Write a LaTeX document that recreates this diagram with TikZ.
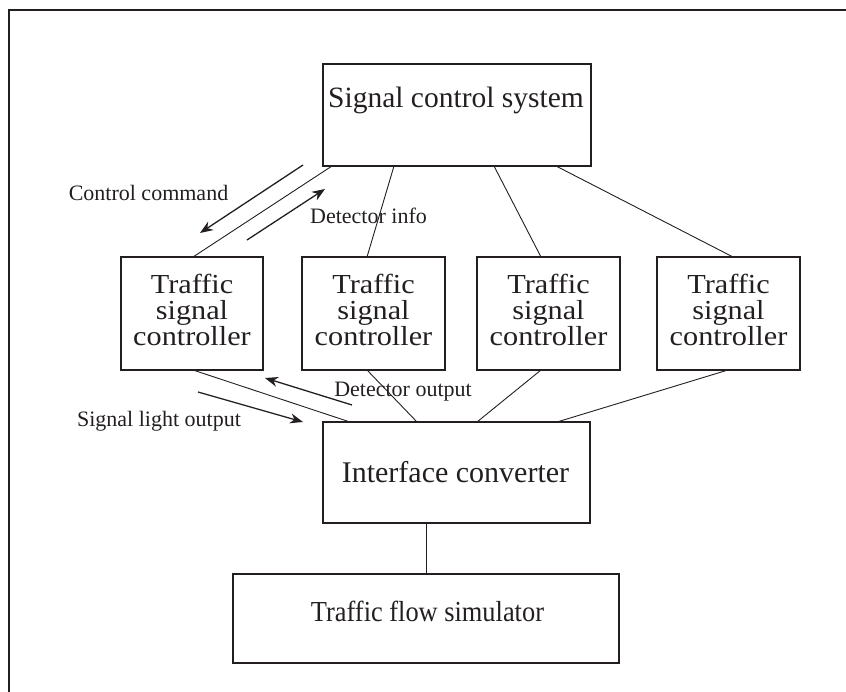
\documentclass[tikz,border=0pt]{standalone}
\usepackage{fontspec}
\setmainfont{Liberation Serif}
\newfontfamily\widefont[FakeStretch=1.1]{Liberation Serif}
\newfontfamily\narrowfont[FakeStretch=0.91]{Liberation Serif}
\usetikzlibrary{arrows.meta,calc}
\definecolor{ink}{HTML}{231F20}
\begin{document}
\begin{tikzpicture}[x=1pt,y=-1pt,
  box/.style={draw=ink,line width=1.2pt,rectangle,inner sep=0pt,outer sep=0pt},
  bigtext/.style={text=ink,inner sep=0pt,anchor=base},
  tsctext/.style={text=ink,font=\widefont\fontsize{27.5}{26}\selectfont,inner sep=0pt,align=center,anchor=center},
  smalltext/.style={text=ink,font=\fontsize{22}{24}\selectfont,inner sep=0pt,anchor=base},
  conn/.style={draw=ink,line width=0.9pt},
  arr/.style={draw=ink,line width=1.3pt,-{Stealth[length=13pt,width=10pt]}},
  frame/.style={draw=ink,line width=2.6pt}
]
\useasboundingbox (0,0) rectangle (846,692);
\draw[frame] (9,692) -- (9,10) -- (846,10);

% boxes
\node[box,minimum width=268pt,minimum height=102pt] (scs) at (457,115) {};
\node[box,minimum width=142pt,minimum height=113pt] (t1) at (192,313.5) {};
\node[box,minimum width=143pt,minimum height=113pt] (t2) at (373.5,313.5) {};
\node[box,minimum width=143pt,minimum height=113pt] (t3) at (548.5,313.5) {};
\node[box,minimum width=143pt,minimum height=113pt] (t4) at (728.5,313.5) {};
\node[box,minimum width=267pt,minimum height=101pt] (ic) at (456.5,472.5) {};
\node[box,minimum width=386pt,minimum height=89pt] (tfs) at (426,618.5) {};

% box texts
\node[bigtext,font=\fontsize{29.5}{30}\selectfont] (scsl) at (456,108) {Signal control system};
\node[tsctext] (t1l) at (192,309.5) {Traffic\\signal\\controller};
\node[tsctext] (t2l) at (373.5,309.5) {Traffic\\signal\\controller};
\node[tsctext] (t3l) at (548.5,309.5) {Traffic\\signal\\controller};
\node[tsctext] (t4l) at (728.5,309.5) {Traffic\\signal\\controller};
\node[bigtext,font=\fontsize{30}{30}\selectfont] (icl) at (455.5,482) {Interface converter};
\node[bigtext,font=\narrowfont\fontsize{29}{30}\selectfont] (tfsl) at (427.5,621) {Traffic flow simulator};

% connectors top
\draw[conn] (332,0 |- scs.south) -- (193,0 |- t1.north);
\draw[conn] (394,0 |- scs.south) -- (367,0 |- t2.north);
\draw[conn] (494,0 |- scs.south) -- (541,0 |- t3.north);
\draw[conn] (556,0 |- scs.south) -- (733,0 |- t4.north);
% connectors bottom
\draw[conn] (193,0 |- t1.south) -- (350,0 |- ic.north);
\draw[conn] (367,0 |- t2.south) -- (417,0 |- ic.north);
\draw[conn] (541,0 |- t3.south) -- (477,0 |- ic.north);
\draw[conn] (728,0 |- t4.south) -- (557,0 |- ic.north);
\draw[conn] (426,0 |- ic.south) -- (tfs.north);

% arrows
\coordinate (cc1) at (303,165);
\coordinate (cc2) at (200,233);
\coordinate (di1) at (247,240);
\coordinate (di2) at (325,189);
\coordinate (do1) at (352,405);
\coordinate (do2) at (265,378);
\coordinate (sl1) at (198,392);
\coordinate (sl2) at (303,422);
\draw[arr] (cc1) -- (cc2);
\draw[arr] (di1) -- (di2);
\draw[arr] (do1) -- (do2);
\draw[arr] (sl1) -- (sl2);

% labels
\node[smalltext] (ccl) at (148.5,201) {Control command};
\node[smalltext] (dil) at (368.5,224) {Detector info};
\node[smalltext] (dol) at (403,396) {Detector output};
\node[smalltext] (sll) at (159,426) {Signal light output};
\end{tikzpicture}
\end{document}
